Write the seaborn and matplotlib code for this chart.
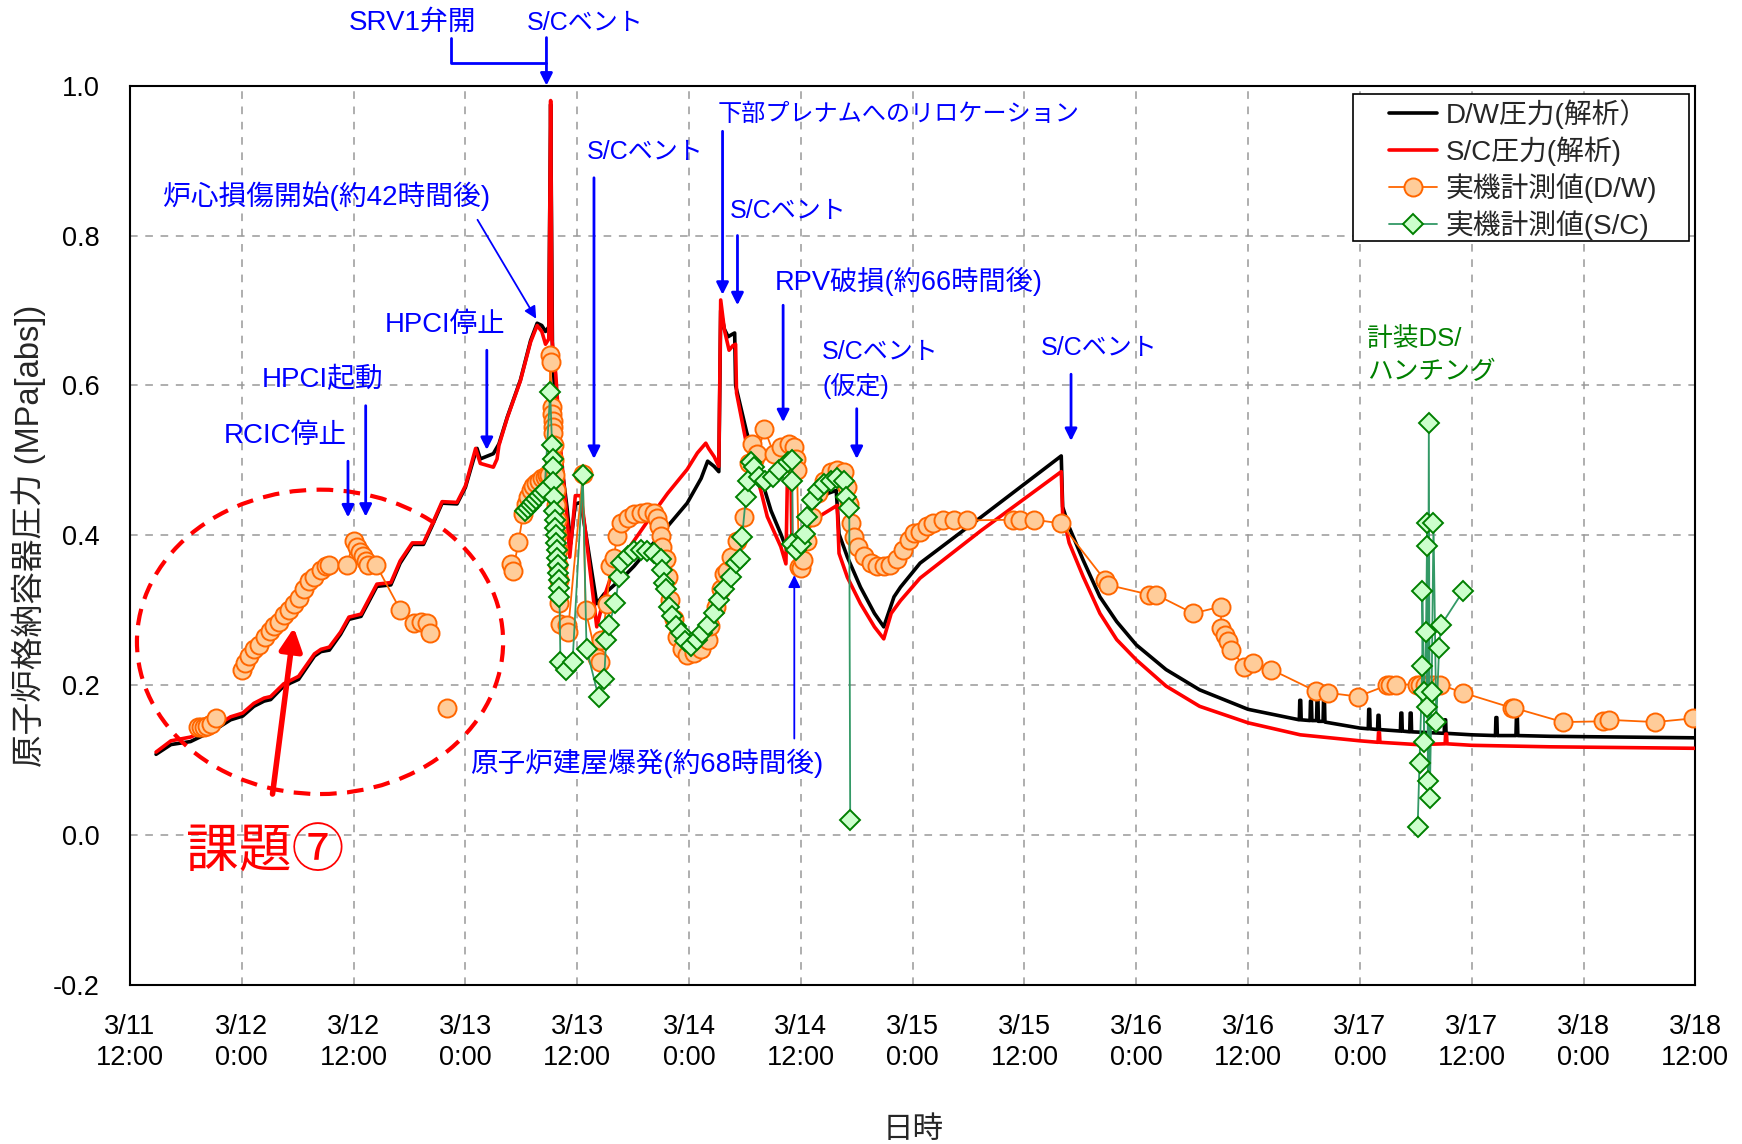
import numpy as np
import pandas as pd
import matplotlib
matplotlib.use("Agg")
import matplotlib.pyplot as plt
from matplotlib.patches import Ellipse, Rectangle
import seaborn as sns

# ---------------- data (hours since 3/11 12:00) ----------------
dw_h = [2.8, 4.4, 6.5, 8.0, 9.4, 10.8, 12.1, 13.3, 14.4, 15.1, 16.5, 18.1, 19.8, 20.5, 21.4,
        22.6, 23.5, 24.8, 26.5, 28.0, 29.0, 30.3, 31.5, 32.4, 33.5, 35.1, 36.0, 37.1, 37.25,
        37.6, 39.0, 39.6, 40.5, 41.9, 43.0, 43.7, 44.2, 44.6, 44.95, 45.15, 45.35, 45.85, 46.9,
        47.3, 47.8, 48.4, 50.1, 50.9, 51.9, 53.0, 54.1, 57.7, 59.8, 61.3, 62.0, 62.7, 63.2,
        63.4, 63.8, 64.2, 64.6, 64.9, 65.0, 66.2, 67.7, 68.8, 69.85, 70.4, 72.0, 73.4, 74.9,
        75.8, 76.1, 77.0, 78.4, 79.9, 80.9, 82.0, 82.7, 84.8, 91.3, 99.95, 100.1, 100.8, 102.3,
        104.1, 105.9, 108.0, 111.2, 114.8, 120.0, 125.5, 125.55, 125.65, 125.7, 126.65, 126.7,
        126.8, 126.85, 127.35, 127.4, 127.5, 127.55, 128.05, 128.1, 128.2, 128.25, 132.0,
        132.9, 132.95, 133.05, 133.1, 133.9, 133.95, 134.05, 134.1, 136.35, 136.4, 136.5,
        136.55, 137.35, 137.4, 137.5, 137.55, 141.05, 141.1, 141.2, 141.25, 144.0, 146.55,
        146.6, 146.7, 146.75, 148.75, 148.8, 148.9, 148.95, 152.4, 168.0]
dw_v = [0.108, 0.121, 0.125, 0.134, 0.143, 0.154, 0.159, 0.172, 0.179, 0.181, 0.199, 0.208,
        0.239, 0.245, 0.247, 0.268, 0.288, 0.292, 0.332, 0.334, 0.363, 0.388, 0.388, 0.412,
        0.443, 0.442, 0.464, 0.511, 0.516, 0.502, 0.509, 0.522, 0.558, 0.607, 0.660, 0.683,
        0.680, 0.672, 0.678, 0.975, 0.640, 0.540, 0.438, 0.389, 0.442, 0.444, 0.309, 0.322,
        0.333, 0.345, 0.359, 0.412, 0.443, 0.476, 0.499, 0.492, 0.485, 0.700, 0.675, 0.665,
        0.668, 0.670, 0.600, 0.537, 0.478, 0.433, 0.402, 0.384, 0.393, 0.438, 0.456, 0.460,
        0.402, 0.371, 0.331, 0.296, 0.278, 0.318, 0.331, 0.363, 0.424, 0.506, 0.438, 0.411,
        0.367, 0.318, 0.285, 0.254, 0.221, 0.194, 0.168, 0.154, 0.180, 0.180, 0.154, 0.153,
        0.179, 0.179, 0.153, 0.153, 0.179, 0.179, 0.152, 0.152, 0.179, 0.179, 0.151, 0.143,
        0.142, 0.168, 0.168, 0.142, 0.141, 0.160, 0.160, 0.141, 0.139, 0.163, 0.163, 0.139,
        0.138, 0.163, 0.163, 0.138, 0.136, 0.154, 0.154, 0.136, 0.134, 0.133, 0.157, 0.157,
        0.133, 0.133, 0.157, 0.157, 0.133, 0.132, 0.130]

sc_h = [2.8, 4.4, 6.5, 8.0, 9.4, 10.8, 12.1, 13.3, 14.4, 15.1, 16.5, 18.1, 19.8, 20.5, 21.4,
        22.6, 23.5, 24.8, 26.5, 28.0, 29.0, 30.3, 31.5, 32.4, 33.5, 35.1, 36.0, 37.1, 37.6,
        39.0, 39.4, 39.6, 40.5, 41.9, 43.0, 43.7, 44.2, 44.6, 44.95, 45.15, 45.3, 45.7, 46.2,
        47.0, 47.2, 47.8, 48.4, 48.7, 50.1, 50.9, 51.6, 52.7, 55.9, 57.7, 59.8, 60.9, 61.8,
        62.1, 62.7, 63.2, 63.4, 63.8, 64.3, 64.7, 65.0, 65.1, 66.2, 67.7, 68.4, 69.85, 70.4,
        70.55, 70.95, 71.05, 72.0, 73.8, 75.9, 76.1, 77.0, 78.4, 79.9, 80.9, 81.7, 82.7, 84.8,
        91.3, 99.95, 100.1, 100.8, 102.3, 104.1, 105.9, 108.0, 111.2, 114.8, 120.0, 125.6,
        132.0, 133.95, 134.0, 134.1, 134.15, 138.1, 141.15, 141.2, 141.3, 141.35, 144.0,
        152.4, 168.0]
sc_v = [0.111, 0.126, 0.131, 0.139, 0.147, 0.158, 0.163, 0.176, 0.183, 0.185, 0.202, 0.212,
        0.242, 0.248, 0.251, 0.271, 0.291, 0.295, 0.335, 0.337, 0.366, 0.390, 0.390, 0.414,
        0.445, 0.444, 0.466, 0.516, 0.496, 0.491, 0.502, 0.520, 0.557, 0.606, 0.658, 0.680,
        0.672, 0.655, 0.662, 0.980, 0.660, 0.615, 0.519, 0.410, 0.371, 0.453, 0.453, 0.424,
        0.278, 0.318, 0.344, 0.368, 0.425, 0.456, 0.488, 0.510, 0.523, 0.516, 0.505, 0.492,
        0.714, 0.674, 0.647, 0.653, 0.655, 0.590, 0.520, 0.460, 0.425, 0.385, 0.362, 0.471,
        0.471, 0.385, 0.398, 0.424, 0.440, 0.376, 0.344, 0.309, 0.278, 0.262, 0.296, 0.313,
        0.343, 0.406, 0.485, 0.429, 0.390, 0.345, 0.296, 0.261, 0.234, 0.199, 0.172, 0.150,
        0.134, 0.126, 0.124, 0.137, 0.137, 0.124, 0.121, 0.122, 0.135, 0.135, 0.122, 0.120,
        0.118, 0.116]

meas_dw_h = [7.25, 7.6, 7.95, 8.3, 8.65, 9.2,
             12.0, 12.4, 12.8, 13.3, 13.9, 14.5, 15.0, 15.5, 16.0, 16.5, 17.1, 17.6, 18.1, 18.7,
             19.2, 19.8, 20.5, 21.0, 21.4, 23.3, 24.0, 24.4, 24.7, 25.0, 25.3, 25.6, 26.4, 29.0,
             30.5, 31.2, 31.9, 32.2,
             34.0,
             40.9, 41.1, 41.7, 42.2, 42.5, 42.7, 43.0, 43.3, 43.6, 43.9, 44.2, 44.5, 44.8, 45.0,
             45.1, 45.15, 45.25, 45.3, 45.35, 45.4, 45.45, 45.5, 45.55, 45.6, 45.7, 45.75, 45.8,
             45.85, 45.9, 45.95, 46.0, 46.1, 46.2, 46.9, 47.0, 48.6, 48.9, 50.1, 50.5, 50.6, 51.2,
             51.5, 51.9, 52.3, 52.7, 53.4, 54.1, 54.8, 55.5, 56.2, 56.6, 56.8, 57.0, 57.1, 57.5,
             57.7, 58.0, 58.4, 58.7, 59.3, 59.8, 60.5, 61.3, 62.0, 62.3, 62.9, 63.4, 63.8, 64.1,
             64.5, 65.2, 65.9, 66.4, 66.8, 67.0, 67.35, 68.1, 69.1, 69.9, 70.7, 71.3, 71.5, 71.6,
             71.8, 72.0, 72.2, 72.7, 73.25, 73.8, 74.5, 75.2, 75.9, 76.65, 77.0, 77.2, 77.4, 77.7,
             78.1, 78.8, 79.5, 80.2, 80.9, 81.6, 82.3, 83.0, 83.6, 84.1, 84.8, 85.5, 86.2, 87.3,
             88.4, 89.8, 94.8, 95.5, 97.0, 99.9, 104.6, 104.95, 109.4, 110.1, 114.1, 117.1, 117.1,
             117.5, 117.85, 118.2, 119.6, 120.5, 122.5, 127.3, 128.6, 131.8, 134.9, 135.2, 135.9,
             138.1, 138.5, 139.0, 139.5, 140.0, 140.6, 143.1, 148.3, 148.5, 153.8, 158.1, 158.7,
             163.7, 167.8]
meas_dw_v = [0.145, 0.145, 0.145, 0.146, 0.148, 0.157,
             0.221, 0.230, 0.239, 0.248, 0.254, 0.265, 0.272, 0.279, 0.285, 0.294, 0.301, 0.308,
             0.316, 0.328, 0.339, 0.345, 0.354, 0.359, 0.361, 0.361, 0.392, 0.385, 0.378, 0.372,
             0.366, 0.361, 0.361, 0.301, 0.283, 0.285, 0.283, 0.270,
             0.170,
             0.362, 0.352, 0.391, 0.429, 0.442, 0.451, 0.460, 0.466, 0.470, 0.473, 0.476, 0.478,
             0.480, 0.480, 0.640, 0.631, 0.571, 0.562, 0.553, 0.544, 0.536, 0.520, 0.500, 0.480,
             0.460, 0.440, 0.420, 0.400, 0.380, 0.360, 0.340, 0.310, 0.282, 0.280, 0.271, 0.482,
             0.300, 0.236, 0.231, 0.260, 0.309, 0.359, 0.370, 0.399, 0.416, 0.423, 0.428, 0.430,
             0.431, 0.430, 0.423, 0.412, 0.399, 0.385, 0.368, 0.345, 0.314, 0.288, 0.265, 0.248,
             0.241, 0.243, 0.248, 0.261, 0.279, 0.305, 0.328, 0.349, 0.352, 0.371, 0.393, 0.424,
             0.496, 0.522, 0.500, 0.509, 0.542, 0.509, 0.518, 0.522, 0.518, 0.502, 0.487, 0.358,
             0.356, 0.367, 0.393, 0.424, 0.456, 0.473, 0.484, 0.487, 0.484, 0.464, 0.442, 0.416,
             0.398, 0.384, 0.372, 0.363, 0.359, 0.359, 0.361, 0.368, 0.381, 0.394, 0.403, 0.405,
             0.412, 0.416, 0.420, 0.421, 0.420, 0.421, 0.421, 0.421, 0.416, 0.341, 0.334, 0.321,
             0.321, 0.296, 0.305, 0.276, 0.267, 0.259, 0.247, 0.225, 0.230, 0.221, 0.192, 0.190,
             0.185, 0.200, 0.201, 0.201, 0.201, 0.201, 0.201, 0.201, 0.201, 0.201, 0.190, 0.170,
             0.170, 0.151, 0.152, 0.154, 0.151, 0.156]
meas_dw_breaks = [10.0, 33.0, 38.0]   # hours where the measured D/W trace is interrupted

meas_sc_h = [42.4, 42.7, 43.0, 43.3, 43.6, 43.9, 44.2, 44.5, 45.1, 45.3, 45.35, 45.4, 45.45,
             45.5, 45.55, 45.6, 45.65, 45.7, 45.75, 45.8, 45.85, 45.9, 45.95, 46.0, 46.05, 46.1,
             46.2, 46.75, 47.5, 48.6, 49.0, 50.3, 50.9, 51.1, 51.4, 52.1, 52.5, 52.7, 53.4, 54.1,
             54.8, 55.5, 56.2, 57.0, 57.1, 57.3, 57.5, 57.9, 58.2, 58.6, 59.1, 59.6, 60.2, 60.9,
             61.4, 62.0, 62.7, 63.2, 63.8, 64.5, 65.0, 65.5, 65.7, 66.1, 66.3, 66.6, 67.0, 67.5,
             68.2, 69.0, 69.7, 70.6, 71.1, 71.1, 71.1, 71.5, 72.0, 72.4, 72.7, 73.25, 73.8, 74.5,
             75.2, 75.9, 76.65, 76.8, 77.2, 77.3,
             138.2, 138.4, 138.7, 138.7, 138.9, 138.9, 139.1, 139.2, 139.2, 139.2, 139.3, 139.4,
             139.5, 139.7, 139.9, 140.2, 140.5, 140.7, 143.1]
meas_sc_v = [0.432, 0.436, 0.440, 0.444, 0.448, 0.452, 0.456, 0.460, 0.591, 0.520, 0.502, 0.491,
             0.471, 0.451, 0.433, 0.420, 0.410, 0.400, 0.390, 0.380, 0.370, 0.360, 0.350, 0.340,
             0.330, 0.318, 0.231, 0.220, 0.231, 0.481, 0.249, 0.184, 0.209, 0.261, 0.280, 0.310,
             0.345, 0.363, 0.372, 0.379, 0.381, 0.379, 0.376, 0.368, 0.354, 0.336, 0.328, 0.305,
             0.292, 0.279, 0.270, 0.259, 0.252, 0.261, 0.270, 0.281, 0.296, 0.314, 0.328, 0.344,
             0.363, 0.368, 0.398, 0.451, 0.473, 0.498, 0.491, 0.478, 0.473, 0.478, 0.487, 0.498,
             0.500, 0.473, 0.389, 0.380, 0.389, 0.402, 0.424, 0.447, 0.460, 0.469, 0.473, 0.476,
             0.473, 0.451, 0.436, 0.020,
             0.011, 0.097, 0.226, 0.326, 0.125, 0.191, 0.271, 0.386, 0.171, 0.417, 0.072, 0.550,
             0.050, 0.191, 0.416, 0.151, 0.250, 0.280, 0.326]
meas_sc_breaks = [100.0]

tick_hours = list(range(0, 169, 12))
tick_labels = ["3/11\n12:00", "3/12\n0:00", "3/12\n12:00", "3/13\n0:00", "3/13\n12:00",
               "3/14\n0:00", "3/14\n12:00", "3/15\n0:00", "3/15\n12:00", "3/16\n0:00",
               "3/16\n12:00", "3/17\n0:00", "3/17\n12:00", "3/18\n0:00", "3/18\n12:00"]
y_ticks = [-0.2, 0.0, 0.2, 0.4, 0.6, 0.8, 1.0]

# ---------------- style ----------------
sns.set_theme(style="white")
FONTS = ["Liberation Sans", "Noto Sans CJK JP", "DejaVu Sans"]
plt.rcParams["font.family"] = FONTS
plt.rcParams["axes.unicode_minus"] = False

fig = plt.figure(figsize=(17.42, 11.44), dpi=100)
ax = fig.add_axes([0.0746, 0.1388, 0.8986, 0.7864])

FS = 18
TFS = 19.5
BLUE = "#0000FF"

df_dw = pd.DataFrame({"h": dw_h, "v": dw_v})
df_sc = pd.DataFrame({"h": sc_h, "v": sc_v})
df_mdw = pd.DataFrame({"h": meas_dw_h, "v": meas_dw_v})
df_mdw["seg"] = np.searchsorted(meas_dw_breaks, df_mdw["h"])
df_msc = pd.DataFrame({"h": meas_sc_h, "v": meas_sc_v})
df_msc["seg"] = np.searchsorted(meas_sc_breaks, df_msc["h"])

sns.lineplot(data=df_dw, x="h", y="v", sort=False, estimator=None, errorbar=None,
             color="black", lw=2.6, ax=ax, label="D/W圧力(解析）", zorder=3)
sns.lineplot(data=df_sc, x="h", y="v", sort=False, estimator=None, errorbar=None,
             color="#FF0000", lw=2.6, ax=ax, label="S/C圧力(解析)", zorder=4)

o_kw = dict(marker="o", markersize=13, markerfacecolor="#FFCC99", markeredgecolor="#FF6600",
            markeredgewidth=1.4, color="#FF6600", lw=1.3)
for i, (s, g) in enumerate(df_mdw.groupby("seg")):
    sns.lineplot(data=g, x="h", y="v", sort=False, estimator=None, errorbar=None, ax=ax,
                 label="実機計測値(D/W)" if i == 0 else "_nolegend_", zorder=5, **o_kw)

g_kw = dict(marker="D", markersize=10, markerfacecolor="#CCFFCC", markeredgecolor="#008000",
            markeredgewidth=1.4, color="#339966", lw=1.3)
for i, (s, g) in enumerate(df_msc.groupby("seg")):
    sns.lineplot(data=g, x="h", y="v", sort=False, estimator=None, errorbar=None, ax=ax,
                 label="実機計測値(S/C)" if i == 0 else "_nolegend_", zorder=6, **g_kw)

# ---------------- axes ----------------
ax.set_xlim(0, 168)
ax.set_ylim(-0.2, 1.0)
ax.set_xticks(tick_hours)
ax.set_xticklabels(tick_labels, fontsize=TFS, linespacing=1.22)
ax.set_yticks(y_ticks)
ax.set_yticklabels([f"{t:.1f}" for t in y_ticks], fontsize=TFS)
ax.tick_params(axis="x", direction="in", length=8, width=1, pad=21, colors="black")
ax.tick_params(axis="y", direction="in", length=0, pad=22, colors="black")
ax.grid(True, color="#999999", ls=(0, (5, 5)), lw=1.1)
for sp in ax.spines.values():
    sp.set_color("black")
    sp.set_linewidth(1.5)
ax.set_xlabel("日時", fontsize=22, labelpad=32)
ax.set_ylabel("原子炉格納容器圧力 (MPa[abs])", fontsize=23.5, labelpad=5)

# legend: frameless legend over a hand-placed frame (wide left margin as in the original)
ax.add_patch(Rectangle((0.7814, 0.8272), 0.2143, 0.1629, transform=ax.transAxes,
                       facecolor="white", edgecolor="black", lw=1.2, zorder=10))
leg = ax.legend(loc="upper left", bbox_to_anchor=(0.8041, 0.985), fontsize=20,
                frameon=False, handlelength=1.75, borderpad=0, borderaxespad=0,
                labelspacing=0.26, handletextpad=0.3)
leg.set_zorder(11)

# ---------------- annotations ----------------
def arrow(x0, y0, x1, y1, color=BLUE, lw=2, ms=18):
    ax.annotate("", xy=(x1, y1), xytext=(x0, y0), xycoords="data", textcoords="data",
                arrowprops=dict(arrowstyle="-|>", color=color, lw=lw, mutation_scale=ms,
                                shrinkA=0, shrinkB=0), annotation_clip=False, zorder=8)

def label(x, y, s, color=BLUE, fs=FS, ha="center", **kw):
    ax.text(x, y, s, color=color, fontsize=fs, ha=ha, va="center", zorder=9, **kw)

label(30.3, 1.084, "SRV1弁開", fs=20)
label(48.9, 1.084, "S/Cベント")
ax.plot([34.5, 34.5, 44.7], [1.064, 1.03, 1.03], color=BLUE, lw=2, clip_on=False, zorder=8)
arrow(44.7, 1.064, 44.7, 1.0)

label(21.1, 0.852, "炉心損傷開始(約42時間後)", fs=20)
arrow(37.3, 0.821, 43.6, 0.689, lw=1.3)
label(33.8, 0.681, "HPCI停止", fs=19.8)
arrow(38.3, 0.647, 38.3, 0.514)
label(20.7, 0.607, "HPCI起動", fs=20)
arrow(25.3, 0.573, 25.3, 0.425)
label(16.7, 0.533, "RCIC停止", fs=20)
arrow(23.4, 0.499, 23.4, 0.424)
label(55.3, 0.911, "S/Cベント")
arrow(49.8, 0.877, 49.8, 0.502)
label(82.5, 0.961, "下部プレナムへのリロケーション", fs=17.4)
arrow(63.6, 0.939, 63.6, 0.721)
label(70.6, 0.833, "S/Cベント")
arrow(65.2, 0.800, 65.2, 0.707)
label(83.6, 0.739, "RPV破損(約66時間後)", fs=19.6)
arrow(70.1, 0.707, 70.1, 0.551)
label(74.3, 0.645, "S/Cベント", ha="left")
label(74.3, 0.599, "(仮定)", ha="left")
arrow(78.0, 0.569, 78.0, 0.502)
label(104.0, 0.650, "S/Cベント")
arrow(101.0, 0.615, 101.0, 0.526)
ax.text(55.5, 0.096, "原子炉建屋爆発(約68時間後)", color=BLUE, fontsize=19.9, ha="center",
        va="center", zorder=9, bbox=dict(facecolor="white", edgecolor="none", pad=1))
arrow(71.3, 0.129, 71.3, 0.347, lw=1.3)
label(132.8, 0.662, "計装DS/", color="#008000", ha="left", fs=18.5)
label(132.8, 0.618, "ハンチング", color="#008000", ha="left", fs=18.5)

ax.add_patch(Ellipse((20.4, 0.258), 39.3, 0.406, fill=False, ec="#FF0000",
                     ls=(0, (4, 2.5)), lw=3, zorder=7))
arrow(15.3, 0.055, 17.6, 0.277, color="#FF0000", lw=4, ms=34)
label(14.5, -0.024, "課題⑦", color="#FF0000", fs=38)

fig.savefig("out.png", dpi=100)
